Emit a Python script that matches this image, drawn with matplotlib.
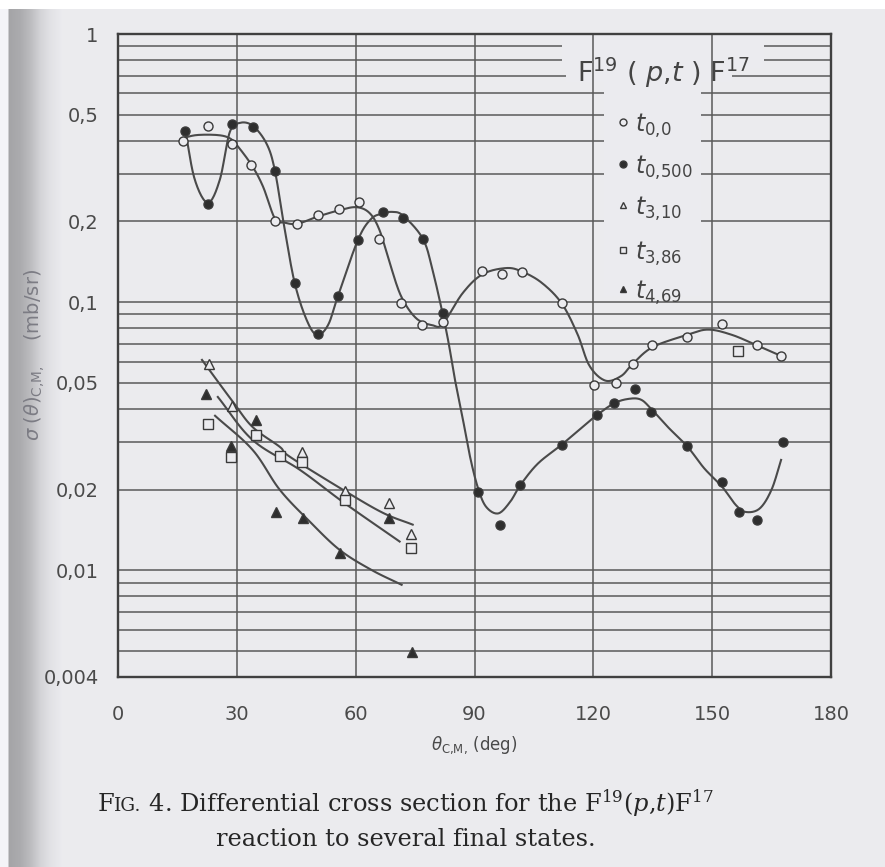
import numpy as np
import matplotlib
matplotlib.use('Agg')
import matplotlib.pyplot as plt
from matplotlib.patches import Rectangle
from matplotlib.lines import Line2D
from matplotlib.offsetbox import TextArea, HPacker, AnchoredOffsetbox

W, H = 885, 867
PAPER = (0.922, 0.922, 0.937)
INK = '#3a3a3a'
GRID = '#5a5a5a'

# measured cross sections, theta_CM in degrees, sigma in mb/sr
t00_ang = [16.4, 22.7, 28.8, 33.7, 39.6, 45.3, 50.5, 55.8, 60.8, 66.0, 71.5, 76.8, 82.0,
           92.0, 97.0, 102.0, 112.0, 120.2, 125.7, 130.0, 134.9, 143.7, 152.5, 161.3, 167.4]
t00_val = [0.40, 0.454, 0.39, 0.325, 0.20, 0.196, 0.212, 0.222, 0.236, 0.172, 0.099, 0.082, 0.084,
           0.131, 0.127, 0.13, 0.099, 0.049, 0.050, 0.059, 0.069, 0.074, 0.083, 0.069, 0.063]

t0500_ang = [16.9, 22.7, 28.7, 34.0, 39.6, 44.6, 50.5, 55.5, 60.6, 66.9, 71.9, 76.9, 82.0,
             91.0, 96.5, 101.6, 112.0, 121.0, 125.3, 130.6, 134.6, 143.7, 152.5, 156.8, 161.3, 167.9]
t0500_val = [0.435, 0.232, 0.462, 0.45, 0.308, 0.118, 0.076, 0.105, 0.171, 0.216, 0.206, 0.172, 0.091,
             0.0196, 0.0148, 0.0208, 0.0294, 0.038, 0.042, 0.0475, 0.039, 0.029, 0.0214, 0.0165, 0.0154, 0.030]

t310_ang = [23.0, 28.7, 46.4, 57.2, 68.3, 73.9]
t310_val = [0.059, 0.041, 0.0275, 0.0197, 0.0178, 0.0137]

t386_ang = [22.7, 28.5, 34.8, 40.8, 46.4, 57.2, 73.9, 156.5]
t386_val = [0.035, 0.0265, 0.032, 0.0267, 0.0253, 0.0183, 0.0121, 0.066]

t469_ang = [22.2, 28.5, 34.8, 40.0, 46.6, 56.0, 68.3, 74.3]
t469_val = [0.0455, 0.029, 0.0364, 0.0165, 0.0157, 0.0116, 0.0157, 0.00495]

# hand drawn guide curves (knots)
c00_ang = [16.5, 20, 25, 28, 30, 33.7, 36.6, 39.6, 42, 45.3, 50.2, 55.8, 60.2, 63.5, 66, 68.6,
           71.5, 75.3, 79.4, 82, 87, 92, 98, 102, 107, 112, 116, 119, 123, 127, 130, 135,
           143.7, 149, 155, 161.3, 167.4]
c00_val = [0.41, 0.42, 0.42, 0.41, 0.385, 0.325, 0.27, 0.205, 0.198, 0.196, 0.208, 0.22, 0.226,
           0.215, 0.186, 0.14, 0.105, 0.087, 0.082, 0.083, 0.108, 0.127, 0.134, 0.13, 0.118, 0.099,
           0.076, 0.058, 0.051, 0.053, 0.059, 0.068, 0.0755, 0.079, 0.0755, 0.069, 0.063]

c0500_ang = [17, 19.4, 22.7, 25.7, 28.2, 30.7, 34, 37.5, 39.6, 42, 44.6, 47.6, 50.2, 53, 55.5,
             60.6, 64, 67, 69.3, 72, 77, 79.5, 82, 83.5, 85, 87, 89, 91, 93, 96, 99, 101.6, 106,
             112, 117, 121, 125.3, 129, 132, 134.6, 139, 143.7, 148, 152.5, 156, 158.5, 162, 165, 167.4]
c0500_val = [0.435, 0.286, 0.235, 0.286, 0.43, 0.466, 0.455, 0.39, 0.31, 0.19, 0.118, 0.086, 0.0755,
             0.082, 0.105, 0.171, 0.205, 0.214, 0.217, 0.21, 0.172, 0.13, 0.09, 0.07, 0.052, 0.037,
             0.026, 0.020, 0.0172, 0.0163, 0.018, 0.0208, 0.025, 0.0294, 0.034, 0.038, 0.042, 0.0436,
             0.0433, 0.040, 0.034, 0.029, 0.024, 0.0205, 0.0175, 0.0165, 0.017, 0.02, 0.0258]

ca_ang = [21.2, 29.0, 34.0, 40.8, 43.4, 56.7, 66.8, 74.4]
ca_val = [0.0609, 0.0425, 0.0342, 0.0289, 0.0265, 0.0200, 0.0164, 0.0148]
cb_ang = [25.2, 34.0, 45.9, 57.2, 71.1]
cb_val = [0.0443, 0.0306, 0.0237, 0.0178, 0.0128]
cc_ang = [24.5, 34.0, 40.8, 48.4, 56.0, 64.0, 71.6]
cc_val = [0.0377, 0.0281, 0.0200, 0.0152, 0.0119, 0.01003, 0.00883]

yticks = [1, 0.5, 0.2, 0.1, 0.05, 0.02, 0.01, 0.004]
ytick_labels = ['1', '0,5', '0,2', '0,1', '0,05', '0,02', '0,01', '0,004']
xticks = [0, 30, 60, 90, 120, 150, 180]


def smooth(xs, ys, n=14):
    # Catmull-Rom through the knots, in angle / log(sigma) space
    sx = 67.6
    p = np.column_stack([np.asarray(xs, float) / sx, np.log10(ys)])
    p = np.vstack([2 * p[0] - p[1], p, 2 * p[-1] - p[-2]])
    t = np.linspace(0, 1, n, endpoint=False)[:, None]
    out = []
    for i in range(1, len(p) - 2):
        p0, p1, p2, p3 = p[i - 1], p[i], p[i + 1], p[i + 2]
        out.append(0.5 * (2 * p1 + (-p0 + p2) * t + (2 * p0 - 5 * p1 + 4 * p2 - p3) * t ** 2
                          + (-p0 + 3 * p1 - 3 * p2 + p3) * t ** 3))
    out.append(p[-2][None])
    out = np.vstack(out)
    return out[:, 0] * sx, 10 ** out[:, 1]


def fx(px):
    return px / W


def fy(py):
    return 1 - py / H


fig = plt.figure(figsize=(W / 100, H / 100), dpi=100)

# scanned page: light paper with a darker shadow at the binding
bg = fig.add_axes([0, 0, 1, 1], zorder=-10)
bg.axis('off')
prof = np.interp(np.arange(W), [0, 7, 9, 20, 30, 40, 50, 62, W],
                 [1.04, 1.04, 0.70, 0.73, 0.80, 0.90, 0.96, 1.0, 1.0])
img = np.clip(prof[None, :, None] * np.array(PAPER)[None, None, :] * np.ones((H, 1, 1)), 0, 1)
img[:9] = 1.0
bg.imshow(img, extent=[0, 1, 0, 1], aspect='auto', interpolation='bilinear')
bg.set_xlim(0, 1)
bg.set_ylim(0, 1)

ax = fig.add_axes([fx(118), fy(677), (831 - 118) / W, (677 - 34) / H])
ax.patch.set_alpha(0)
ax.set_yscale('log')
ax.set_xlim(0, 180)
ax.set_ylim(0.004, 1)

# ruled grid: every 1..9 in each decade, plus the 30 degree verticals
hvals = [k * d for d in (0.001, 0.01, 0.1) for k in range(1, 10) if 0.004 <= k * d < 1]
ax.hlines(hvals, 0, 180, color=GRID, lw=1.1, zorder=1)
# blank areas behind the key
for x0, x1, y0, y1 in [(112.2, 163.1, 0.75, 0.999), (113.2, 155.0, 0.66, 0.75), (122.8, 147.2, 0.105, 0.66)]:
    ax.add_patch(Rectangle((x0, y0), x1 - x0, y1 - y0, facecolor=PAPER, edgecolor='none', zorder=1.5))
ax.vlines([30, 60, 90, 120, 150], 0.004, 1, color=GRID, lw=1.1, zorder=2)

for sp in ax.spines.values():
    sp.set_color('#404040')
    sp.set_linewidth(1.7)

ax.set_yticks(yticks, ytick_labels)
ax.yaxis.set_minor_locator(matplotlib.ticker.NullLocator())
ax.set_xticks(xticks, [str(v) for v in xticks])
ax.tick_params(length=0, labelsize=14, labelcolor='#4a4a4a')
ax.tick_params(axis='y', pad=14)
ax.tick_params(axis='x', pad=20)

# guide curves
for cx, cy in [(c00_ang, c00_val), (c0500_ang, c0500_val), (ca_ang, ca_val), (cb_ang, cb_val), (cc_ang, cc_val)]:
    sx, sy = smooth(cx, cy)
    ax.plot(sx, sy, color='#4a4a4a', lw=1.5, zorder=3)

mk = dict(linestyle='none', markersize=6.5, markeredgewidth=1.0, markeredgecolor=INK, zorder=4)
series = [
    (t00_ang, t00_val, 'o', PAPER, '$t_{0{,}0}$'),
    (t0500_ang, t0500_val, 'o', '#2e2e2e', '$t_{0{,}500}$'),
    (t310_ang, t310_val, '^', PAPER, '$t_{3{,}10}$'),
    (t386_ang, t386_val, 's', PAPER, '$t_{3{,}86}$'),
    (t469_ang, t469_val, '^', '#2e2e2e', '$t_{4{,}69}$'),
]
for a, v, m, fc, lab in series:
    ax.plot(a, v, marker=m, markerfacecolor=fc, **mk)

ax.set_xlabel(r'$\theta_{\mathrm{C{,}M{,}}}$ (deg)', fontsize=12, color='#4a4a4a', labelpad=8)
fig.text(fx(35), fy(355), r'$\sigma\;(\theta)_{\mathrm{C{,}M{,}}}$    (mb/sr)', rotation=90,
         ha='center', va='center', fontsize=14, color='#7c7c84')

# key
fig.text(fx(577), fy(82), r'F$^{19}$ ( $p$,$t$ ) F$^{17}$', fontsize=19.5, color='#444444', va='baseline')
rows = [122, 164, 205, 250, 289]
for (a, v, m, fc, lab), ry in zip(series, rows):
    fig.add_artist(Line2D([fx(623)], [fy(ry)], marker=m, markerfacecolor=fc,
                          linestyle='none', markersize=5, markeredgewidth=1.0, markeredgecolor=INK))
    fig.text(fx(635), fy(ry + 4), lab, fontsize=17, color='#444444', va='center', ha='left')

# caption
cap = dict(family='DejaVu Serif', color='#262626', math_fontfamily='dejavuserif')
line1 = HPacker(children=[
    TextArea('F', textprops=dict(size=17.4, **cap)),
    TextArea('IG.', textprops=dict(size=13.2, **cap)),
    TextArea(' 4. Differential cross section for the F$^{19}$($p$,$t$)F$^{17}$', textprops=dict(size=17.4, **cap)),
], align='baseline', pad=0, sep=0)
fig.add_artist(AnchoredOffsetbox(loc='center', child=line1, frameon=False, pad=0, borderpad=0,
                                 bbox_to_anchor=(fx(406), fy(803)), bbox_transform=fig.transFigure))
fig.text(fx(406), fy(840), 'reaction to several final states.', ha='center', va='center', fontsize=17.4, **cap)

fig.savefig('out.png', dpi=100, facecolor=PAPER)
